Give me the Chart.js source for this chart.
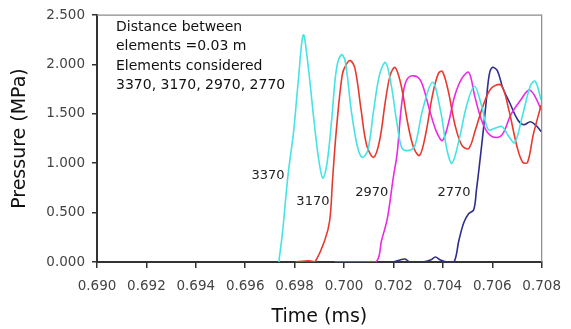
<!DOCTYPE html>
<html>
<head>
<meta charset="utf-8">
<script src="https://cdn.jsdelivr.net/npm/chart.js@4"></script>
<style>
  html, body { margin: 0; padding: 0; background: #fff; }
  #wrap { width: 571px; height: 329px; }
</style>
</head>
<body>
<div id="wrap"><canvas id="chart" width="571" height="329"></canvas></div>
<script>
// Pressure (MPa) vs time (ms) for elements 3370, 3170, 2970, 2770
const xTicks = [0.690, 0.692, 0.694, 0.696, 0.698, 0.700, 0.702, 0.704, 0.706, 0.708];
const yTicks = [0, 0.5, 1.0, 1.5, 2.0, 2.5];

const t3370 = [0.69736, 0.69751, 0.69763, 0.69775, 0.69795, 0.69815, 0.69835, 0.69854, 0.69878, 0.69898, 0.69914,
  0.69930, 0.69950, 0.69969, 0.69989, 0.70005, 0.70029, 0.70053, 0.70073, 0.70096, 0.70120, 0.70144, 0.70168,
  0.70191, 0.70215, 0.70235, 0.70263, 0.70287, 0.70318, 0.70358, 0.70390, 0.70417, 0.70437, 0.70465, 0.70497,
  0.70528, 0.70556, 0.70584, 0.70616, 0.70640, 0.70667, 0.70691, 0.70723, 0.70755, 0.70774, 0.70798];
const p3370 = [0, 0.30, 0.62, 0.92, 1.30, 1.84, 2.30, 2.00, 1.44, 1.03, 0.85,
  0.98, 1.44, 1.95, 2.10, 2.03, 1.54, 1.18, 1.06, 1.13, 1.54, 1.90, 2.02,
  1.79, 1.39, 1.15, 1.13, 1.18, 1.54, 1.82, 1.54, 1.13, 1.00, 1.23, 1.59,
  1.78, 1.59, 1.34, 1.36, 1.37, 1.27, 1.21, 1.49, 1.79, 1.83, 1.64];

const t3170 = [0.69803, 0.69843, 0.69866, 0.69882, 0.69922, 0.69942, 0.69954, 0.69969, 0.69993, 0.70009, 0.70025,
  0.70045, 0.70069, 0.70092, 0.70120, 0.70144, 0.70168, 0.70188, 0.70207, 0.70231, 0.70259, 0.70283, 0.70306,
  0.70330, 0.70358, 0.70382, 0.70398, 0.70421, 0.70449, 0.70477, 0.70505, 0.70532, 0.70564, 0.70596, 0.70636,
  0.70667, 0.70699, 0.70723, 0.70743, 0.70766, 0.70798];
const p3170 = [0, 0.01, 0.01, 0, 0.22, 0.42, 0.85, 1.34, 1.90, 2.00, 2.04,
  1.95, 1.54, 1.18, 1.06, 1.23, 1.64, 1.90, 1.97, 1.79, 1.39, 1.15, 1.08,
  1.29, 1.69, 1.91, 1.93, 1.74, 1.39, 1.18, 1.15, 1.34, 1.59, 1.76, 1.79,
  1.54, 1.18, 1.01, 1.01, 1.29, 1.59];

const t2970 = [0.69962, 0.70013, 0.70128, 0.70152, 0.70176, 0.70199, 0.70215, 0.70231, 0.70247, 0.70267, 0.70299,
  0.70318, 0.70346, 0.70374, 0.70398, 0.70421, 0.70449, 0.70477, 0.70505, 0.70528, 0.70556, 0.70584, 0.70616,
  0.70643, 0.70675, 0.70715, 0.70747, 0.70770, 0.70798];
const p2970 = [0, 0, 0, 0.22, 0.45, 0.85, 1.10, 1.55, 1.80, 1.88, 1.87,
  1.79, 1.54, 1.32, 1.23, 1.39, 1.69, 1.86, 1.92, 1.69, 1.44, 1.30, 1.26,
  1.30, 1.49, 1.64, 1.74, 1.69, 1.54];

const t2770 = [0.70199, 0.70227, 0.70247, 0.70267, 0.70318, 0.70350, 0.70370, 0.70390, 0.70417, 0.70445, 0.70465,
  0.70485, 0.70505, 0.70525, 0.70536, 0.70548, 0.70564, 0.70576, 0.70588, 0.70600, 0.70620, 0.70643, 0.70671,
  0.70703, 0.70727, 0.70755, 0.70778, 0.70798];
const p2770 = [0, 0.02, 0.03, 0, 0, 0.02, 0.05, 0.02, 0, 0, 0.22,
  0.40, 0.49, 0.53, 0.73, 0.98, 1.34, 1.64, 1.90, 1.97, 1.94, 1.76, 1.61,
  1.44, 1.39, 1.42, 1.38, 1.32];

// curve labels placed in data coordinates
const labelText = ['3370', '3170', '2970', '2770'];
const labelT = [0.69692, 0.69874, 0.70112, 0.70445];
const labelP = [0.87, 0.61, 0.70, 0.70];

const noteLines = ['Distance between', 'elements =0.03 m', 'Elements considered', '3370, 3170, 2970, 2770'];

function pairs(ts, ps) {
    return ts.map((t, i) => ({ x: t, y: ps[i] }));
}

function lineSet(label, ts, ps, color) {
    return {
        label: label,
        data: pairs(ts, ps),
        borderColor: color,
        backgroundColor: color,
        borderWidth: 1.6,
        pointRadius: 0,
        showLine: true,
        tension: 0.35,
        fill: false
    };
}

const annotate = {
    id: 'annotate',
    afterDatasetsDraw(chart) {
        const { ctx, chartArea, scales } = chart;
        ctx.save();
        // light frame on top and right
        ctx.strokeStyle = '#8a8a8a';
        ctx.lineWidth = 1.2;
        ctx.beginPath();
        ctx.moveTo(chartArea.left, chartArea.top);
        ctx.lineTo(chartArea.right, chartArea.top);
        ctx.lineTo(chartArea.right, chartArea.bottom);
        ctx.stroke();

        ctx.fillStyle = '#222';
        ctx.font = '13px "DejaVu Sans"';
        ctx.textAlign = 'center';
        ctx.textBaseline = 'middle';
        labelText.forEach((txt, i) => {
            ctx.fillText(txt, scales.x.getPixelForValue(labelT[i]), scales.y.getPixelForValue(labelP[i]));
        });

        ctx.fillStyle = '#111';
        ctx.font = '14px "DejaVu Sans"';
        ctx.textAlign = 'left';
        noteLines.forEach((txt, i) => {
            ctx.fillText(txt, chartArea.left + 19, chartArea.top + 12 + i * 19.5);
        });
        ctx.restore();
    }
};

const ctx = document.getElementById('chart').getContext('2d');
new Chart(ctx, {
    type: 'scatter',
    data: {
        datasets: [
            lineSet('3370', t3370, p3370, '#45e3e3'),
            lineSet('3170', t3170, p3170, '#e8392e'),
            lineSet('2970', t2970, p2970, '#ea2ae6'),
            lineSet('2770', t2770, p2770, '#2e2e8c')
        ]
    },
    options: {
        responsive: false,
        animation: false,
        layout: { padding: { left: 0, right: 19, top: 15, bottom: 0 } },
        plugins: {
            legend: { display: false },
            tooltip: { enabled: false }
        },
        scales: {
            x: {
                type: 'linear',
                min: 0.690,
                max: 0.708,
                afterBuildTicks: (scale) => { scale.ticks = xTicks.map(v => ({ value: v })); },
                afterFit: (scale) => { scale.height = 67; },
                grid: { display: true, drawOnChartArea: false, drawTicks: true, tickLength: 6, color: '#333', lineWidth: 1.5 },
                border: { display: true, color: '#333', width: 2 },
                ticks: {
                    color: '#444',
                    padding: 10,
                    maxRotation: 0,
                    font: { family: 'DejaVu Sans', size: 13.5 },
                    callback: (v) => Number(v).toFixed(3)
                },
                title: {
                    display: true,
                    text: 'Time (ms)',
                    color: '#111',
                    font: { family: 'DejaVu Sans', size: 19 },
                    padding: { top: 0, bottom: 1 }
                }
            },
            y: {
                min: 0,
                max: 2.5,
                afterBuildTicks: (scale) => { scale.ticks = yTicks.map(v => ({ value: v })); },
                afterFit: (scale) => { scale.width = 97; },
                grid: { display: true, drawOnChartArea: false, drawTicks: true, tickLength: 5, color: '#333', lineWidth: 1.5 },
                border: { display: true, color: '#333', width: 2 },
                ticks: {
                    color: '#444',
                    padding: 7,
                    font: { family: 'DejaVu Sans', size: 13.5 },
                    callback: (v) => Number(v).toFixed(3)
                },
                title: {
                    display: true,
                    text: 'Pressure (MPa)',
                    color: '#111',
                    font: { family: 'DejaVu Sans', size: 19 },
                    padding: { top: 9, bottom: 0 }
                }
            }
        }
    },
    plugins: [annotate]
});
</script>
</body>
</html>
